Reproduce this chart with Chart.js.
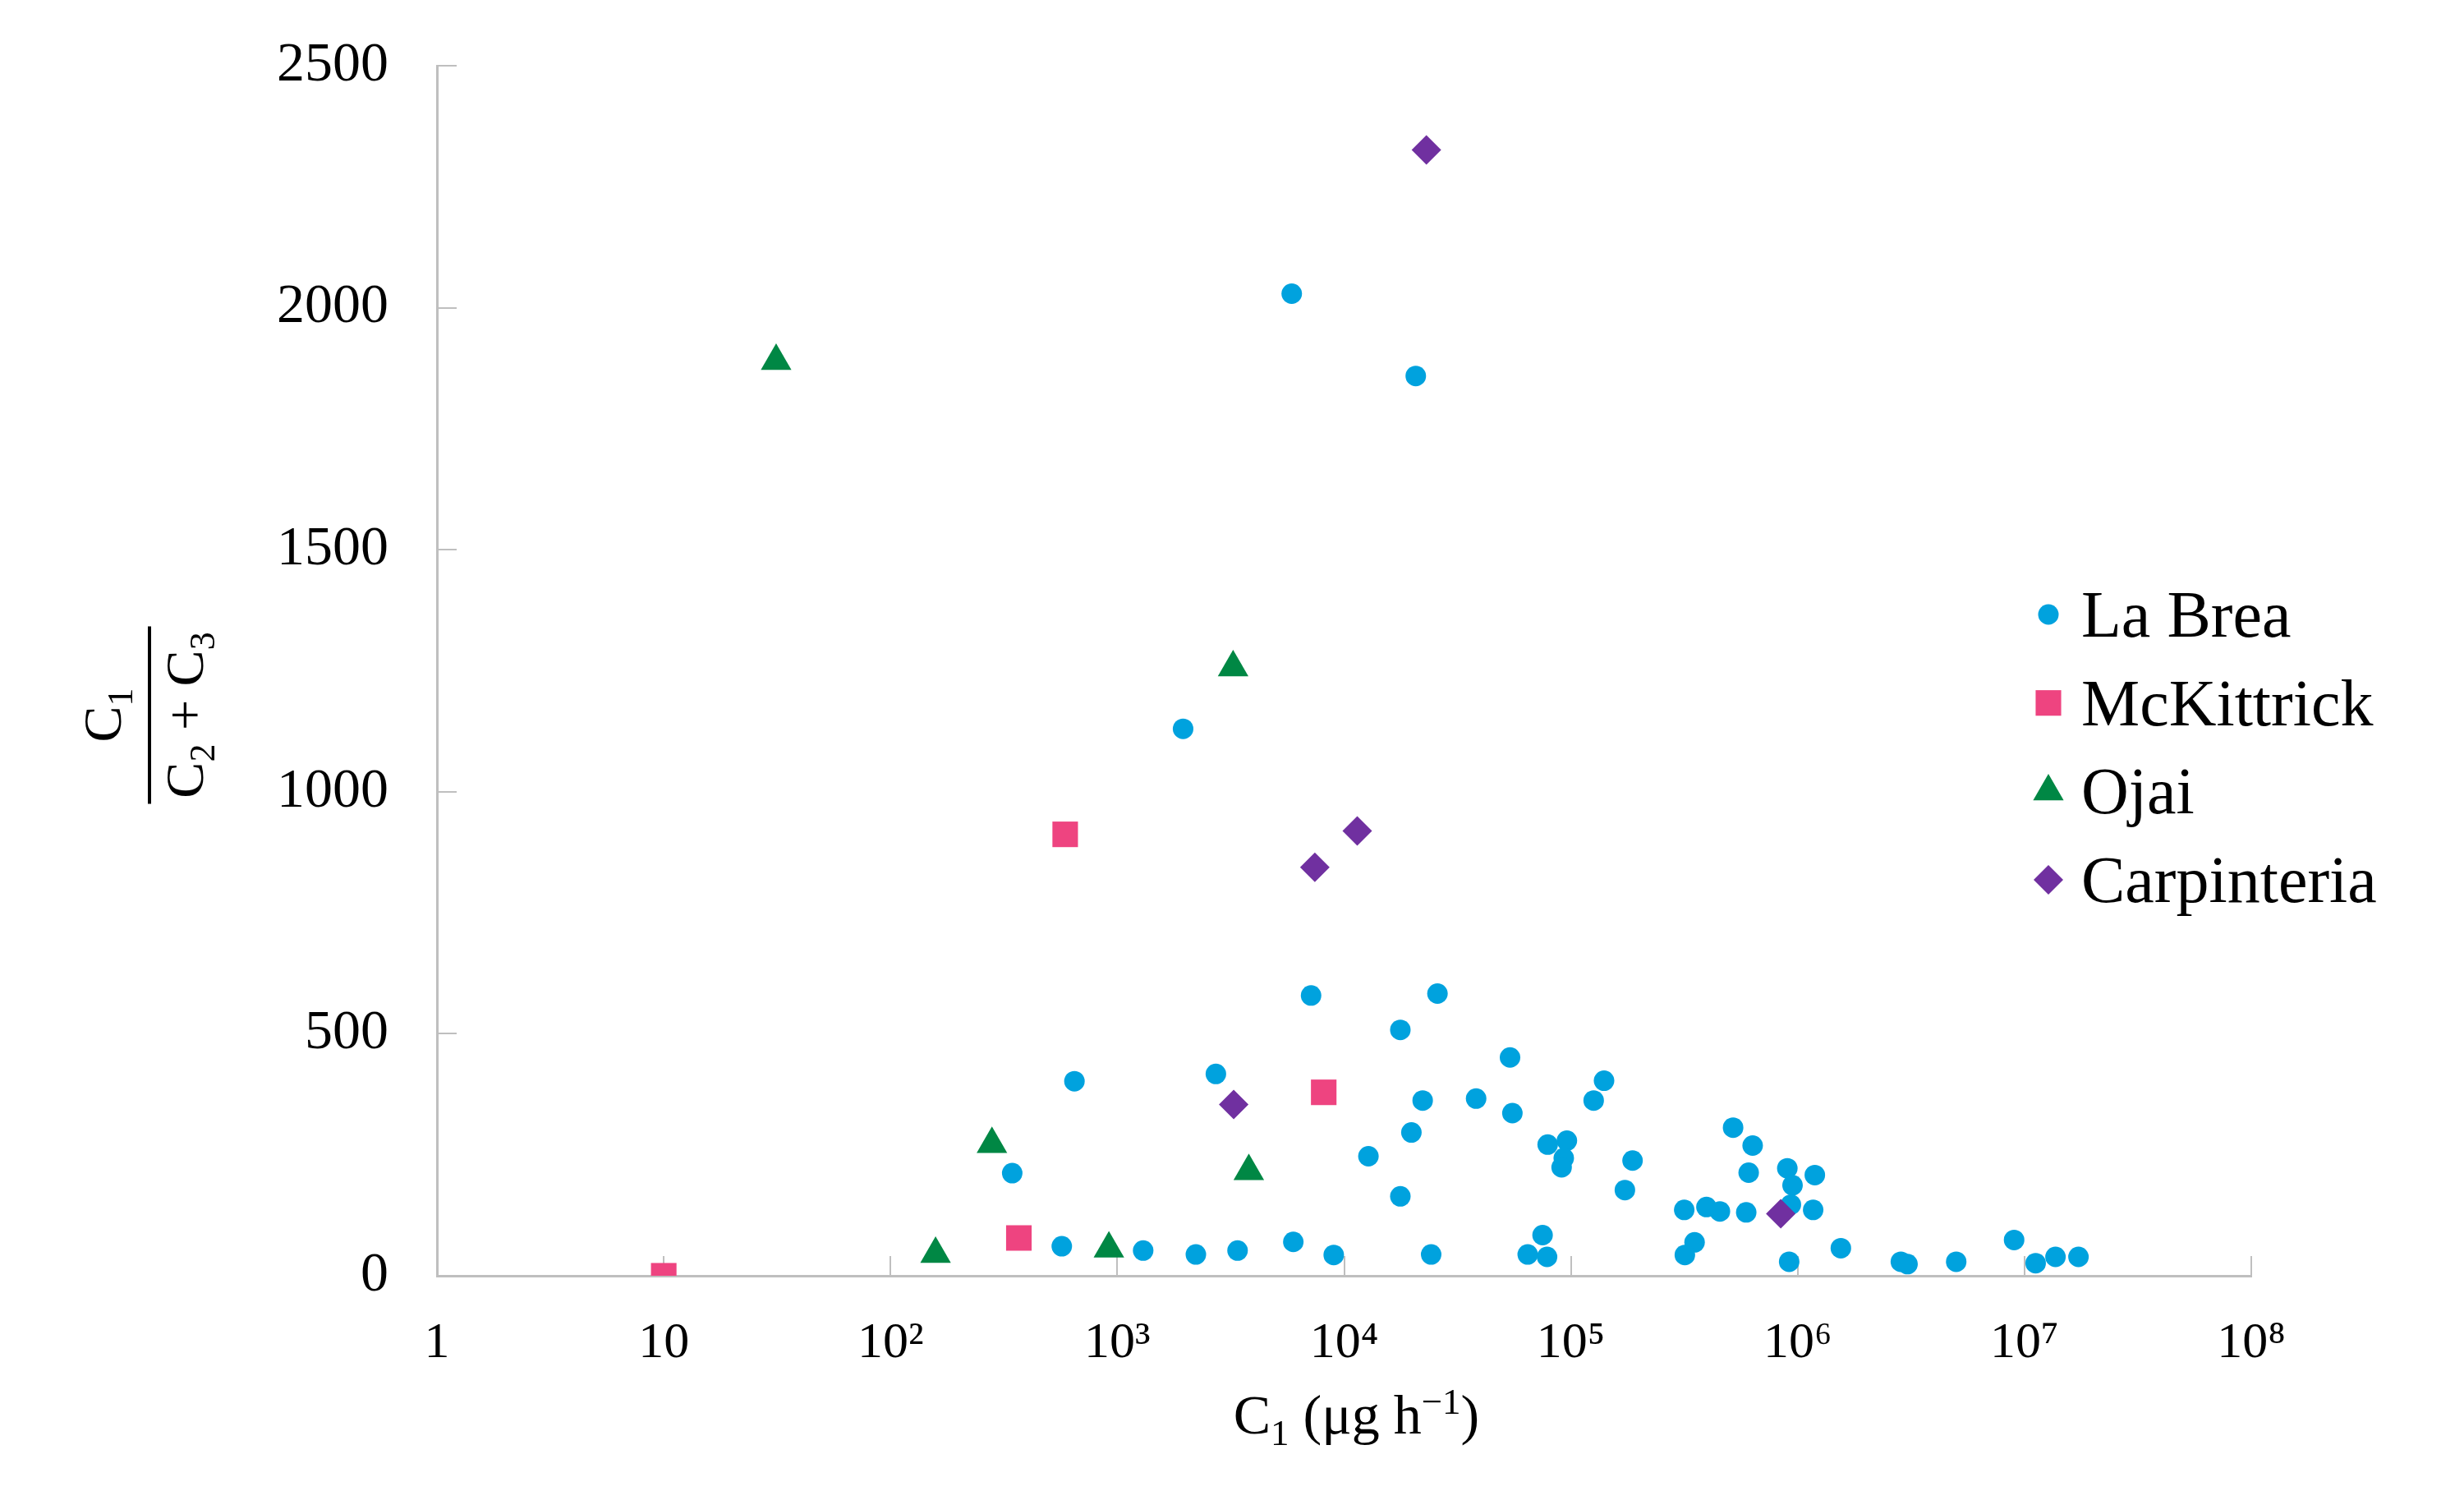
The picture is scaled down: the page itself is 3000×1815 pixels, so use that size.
<!DOCTYPE html>
<html>
<head>
<meta charset="utf-8">
<title>C1 / (C2 + C3) vs C1</title>
<script src="https://cdn.jsdelivr.net/npm/chart.js@4.4.0/dist/chart.umd.min.js"></script>
<style>
    html, body { margin: 0; padding: 0; background: #fff; }
    #wrap { width: 3000px; height: 1815px; }
</style>
</head>
<body>
<div id="wrap"><canvas id="ratioChart"></canvas></div>
<script>
// Данные (C1 в мкг/ч, отношение C1/(C2+C3))
const laBreaC1 = [5875, 20700, 1950, 7150, 25800, 17700, 53900, 140000, 647, 2720,
    22200, 38200, 55200, 126000, 344, 12800, 19800, 17700, 79000, 96000,
    93000, 91000, 187000, 173000, 519000, 633000, 608000, 900000, 1190000, 949000,
    933000, 316000, 396000, 454000, 593000, 1170000, 75000, 64500, 78500, 351000,
    318000, 917000, 1550000, 2850000, 3050000, 5000000, 9000000, 11200000, 13700000, 17300000,
    569, 1300, 2220, 3390, 5970, 9000, 24200];
const laBreaRatio = [2029, 1859, 1130, 579, 583, 508, 451, 403, 402, 417,
    362, 366, 336, 362, 212, 247, 296, 164, 271, 279,
    243, 224, 238, 177, 306, 269, 213, 222, 208, 187,
    147, 136, 142, 133, 131, 136, 84, 44, 39, 69,
    43, 29, 57, 29, 24, 29, 74, 26, 39, 39,
    61, 52, 44, 52, 70, 43, 44];

const mcKittrickC1 = [10, 368, 589, 8130];
const mcKittrickRatio = [0, 78, 912, 379];

const ojaiC1 = [31.3, 3240, 280, 3800, 158, 918];
const ojaiRatio = [1890, 1257, 272, 216, 45, 56];

const carpinteriaC1 = [23060, 7430, 11430, 3260, 842000];
const carpinteriaRatio = [2326, 844, 919, 354, 128];

const xTicks = [1, 10, 100, 1000, 10000, 100000, 1000000, 10000000, 100000000];
const xTickLabels = ['1', '10', '10²', '10³', '10⁴', '10⁵', '10⁶', '10⁷', '10⁸'];
const yTicks = [0, 500, 1000, 1500, 2000, 2500];

const serif = '"Liberation Serif", "Times New Roman", serif';
const axisGray = '#BFBFBF';

function toPoints(xs, ys) {
    return xs.map((x, i) => ({ x: x, y: ys[i] }));
}

// текст с индексами: [строка, 'sub' | 'sup' | '']
function drawRuns(ctx, runs, x, y, size) {
    const fontFor = r => (r[1] ? Math.round(size * 0.66) : size) + 'px ' + serif;
    let total = 0;
    runs.forEach(r => { ctx.font = fontFor(r); total += ctx.measureText(r[0]).width; });
    let cx = x - total / 2;
    runs.forEach(r => {
        ctx.font = fontFor(r);
        const dy = r[1] === 'sub' ? size * 0.21 : r[1] === 'sup' ? -size * 0.36 : 0;
        ctx.fillText(r[0], cx, y + dy);
        cx += ctx.measureText(r[0]).width;
    });
}

const xTitleRuns = [['C', ''], ['1', 'sub'], [' (μg h', ''], ['−1', 'sup'], [')', '']];
const yTitleTop = [['C', ''], ['1', 'sub']];
const yTitleBottom = [['C', ''], ['2', 'sub'], [' + C', ''], ['3', 'sub']];

const axisTitles = {
    id: 'axisTitles',
    afterDraw(chart) {
        const ctx = chart.ctx;
        const a = chart.chartArea;
        ctx.save();
        ctx.fillStyle = '#000';
        ctx.textAlign = 'left';
        ctx.textBaseline = 'alphabetic';
        drawRuns(ctx, xTitleRuns, (a.left + a.right) / 2 + 15, a.bottom + 192, 68);

        // дробь по оси Y
        ctx.translate(0, (a.top + a.bottom) / 2 + 54);
        ctx.rotate(-Math.PI / 2);
        drawRuns(ctx, yTitleTop, 0, 147, 66);
        drawRuns(ctx, yTitleBottom, 0, 247, 66);
        ctx.fillRect(-108, 180, 216, 4);
        ctx.restore();
    }
};

const legendMarks = {
    id: 'legendMarks',
    afterDraw(chart) {
        const ctx = chart.ctx;
        const a = chart.chartArea;
        ctx.save();
        ctx.textAlign = 'left';
        ctx.textBaseline = 'alphabetic';
        ctx.font = '80px ' + serif;
        chart.data.datasets.forEach((ds, i) => {
            const base = 775 + i * 107.7;
            ctx.fillStyle = ds.backgroundColor;
            Chart.helpers.drawPoint(ctx, {
                pointStyle: ds.pointStyle,
                radius: ds.pointRadius,
                rotation: 0,
                borderWidth: 0
            }, a.right - 247, base - 27);
            ctx.fillStyle = '#000';
            ctx.fillText(ds.label, a.right - 207, base);
        });
        ctx.restore();
    }
};

const ctx = document.getElementById('ratioChart').getContext('2d');
new Chart(ctx, {
    type: 'scatter',
    data: {
        datasets: [{
            label: 'La Brea',
            data: toPoints(laBreaC1, laBreaRatio),
            pointStyle: 'circle',
            pointRadius: 12.5,
            backgroundColor: 'rgb(0,162,222)',
            borderWidth: 0,
            order: 3
        }, {
            label: 'McKittrick',
            data: toPoints(mcKittrickC1, mcKittrickRatio),
            pointStyle: 'rect',
            pointRadius: 22,
            backgroundColor: 'rgb(238,68,128)',
            borderWidth: 0,
            order: 2
        }, {
            label: 'Ojai',
            data: toPoints(ojaiC1, ojaiRatio),
            pointStyle: 'triangle',
            pointRadius: 21.5,
            backgroundColor: 'rgb(0,135,68)',
            borderWidth: 0,
            order: 1
        }, {
            label: 'Carpinteria',
            data: toPoints(carpinteriaC1, carpinteriaRatio),
            pointStyle: 'rectRot',
            pointRadius: 18,
            backgroundColor: 'rgb(112,48,160)',
            borderWidth: 0,
            order: 0
        }]
    },
    options: {
        responsive: true,
        maintainAspectRatio: false,
        devicePixelRatio: 1,
        animation: false,
        layout: {
            padding: { top: 80, right: 259, bottom: 0, left: 0 }
        },
        scales: {
            x: {
                type: 'logarithmic',
                min: 1,
                max: 100000000,
                afterBuildTicks: axis => { axis.ticks = xTicks.map(v => ({ value: v })); },
                afterFit: axis => { axis.height = 262; },
                grid: {
                    drawOnChartArea: false,
                    drawTicks: true,
                    tickLength: -24,
                    color: axisGray,
                    lineWidth: 2
                },
                border: { display: true, color: axisGray, width: 3 },
                ticks: {
                    autoSkip: false,
                    maxRotation: 0,
                    padding: 70,
                    color: '#000',
                    font: { family: serif, size: 62 },
                    callback: value => xTickLabels[xTicks.indexOf(value)]
                }
            },
            y: {
                min: 0,
                max: 2500,
                afterBuildTicks: axis => { axis.ticks = yTicks.map(v => ({ value: v })); },
                afterFit: axis => {
                    axis.width = 532;
                    // отступ подписей не должен сдвигать область графика
                    axis.paddingTop = 0;
                    axis.paddingBottom = 0;
                },
                grid: {
                    drawOnChartArea: false,
                    drawTicks: true,
                    tickLength: -24,
                    color: axisGray,
                    lineWidth: 2
                },
                border: { display: true, color: axisGray, width: 3 },
                ticks: {
                    padding: 83,
                    color: '#000',
                    font: { family: serif, size: 68 },
                    callback: value => String(value)
                }
            }
        },
        plugins: {
            legend: { display: false },
            tooltip: { enabled: false }
        }
    },
    plugins: [axisTitles, legendMarks]
});
</script>
</body>
</html>
